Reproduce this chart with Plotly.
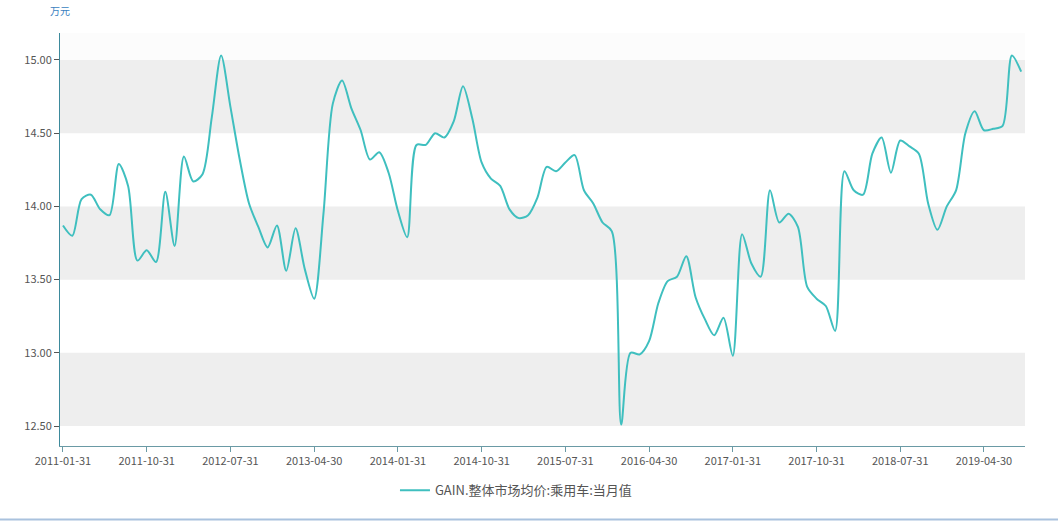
import pandas as pd
import plotly.graph_objects as go

months = pd.date_range("2011-01-31", periods=104, freq="ME").strftime("%Y-%m-%d").tolist()

values = [
    13.87, 13.80, 14.05, 14.08, 13.98, 13.94, 14.29, 14.14, 13.63, 13.70,
    13.62, 14.10, 13.73, 14.34, 14.17, 14.22, 14.61, 15.03, 14.68, 14.32,
    14.02, 13.86, 13.72, 13.87, 13.56, 13.85, 13.57, 13.37, 13.95, 14.70,
    14.86, 14.67, 14.52, 14.32, 14.37, 14.23, 13.97, 13.79, 14.42, 14.42,
    14.50, 14.47, 14.58, 14.82, 14.60, 14.30, 14.19, 14.14, 13.98, 13.92,
    13.94, 14.06, 14.27, 14.24, 14.30, 14.35, 14.11, 14.02, 13.89, 13.83,
    12.51, 13.00, 12.99, 13.08, 13.34, 13.49, 13.52, 13.66, 13.38, 13.23,
    13.12, 13.24, 12.98, 13.81, 13.61, 13.52, 14.11, 13.89, 13.95, 13.86,
    13.45, 13.37, 13.32, 13.15, 14.24, 14.11, 14.08, 14.36, 14.47, 14.23,
    14.45, 14.41, 14.36, 14.02, 13.84, 14.00, 14.11, 14.50, 14.65, 14.52,
    14.53, 14.55, 15.03, 14.92,
]

series_name = "GAIN.整体市场均价:乘用车:当月值"
unit_label = "万元"
x_ticks = months[::9]
y_ticks = [12.5, 13.0, 13.5, 14.0, 14.5, 15.0]
bands = [(14.5, 15.0), (13.5, 14.0), (12.5, 13.0)]

font_family = "Noto Sans CJK SC, Noto Sans, sans-serif"
line_color = "#3fbfbf"
axis_color = "#3d8a9c"

fig = go.Figure()
fig.add_trace(go.Scatter(
    x=months, y=values, mode="lines", name=series_name,
    line=dict(color=line_color, width=2, shape="spline", smoothing=0.8),
))

shapes = []
for lo, hi in bands:
    shapes.append(dict(type="rect", xref="paper", yref="y", x0=0, x1=1, y0=lo, y1=hi,
                       fillcolor="#eeeeee", line=dict(width=0), layer="below"))
shapes.append(dict(type="rect", xref="paper", yref="y", x0=0, x1=1, y0=15.0, y1=15.184,
                   fillcolor="#fcfcfc", line=dict(width=0), layer="below"))
shapes.append(dict(type="line", xref="paper", yref="paper", x0=-0.07, x1=1.04,
                   y0=-0.178, y1=-0.178, line=dict(color="#a9c2de", width=2)))

fig.update_layout(
    width=1058, height=521,
    margin=dict(l=60, r=33, t=33, b=75, autoexpand=False),
    paper_bgcolor="white", plot_bgcolor="white",
    font=dict(family=font_family, size=11, color="#555555"),
    shapes=shapes,
    showlegend=True,
    legend=dict(orientation="h", x=0.4725, xanchor="center", y=-0.107, yanchor="middle",
                font=dict(size=13, color="#555555"), bgcolor="rgba(0,0,0,0)"),
    annotations=[dict(text=unit_label, xref="paper", yref="paper", x=-0.0124, y=1.031,
                      xanchor="left", yanchor="bottom", showarrow=False,
                      font=dict(size=10, color="#3a7fbf", family=font_family))],
    xaxis=dict(
        type="category", range=[-0.32, 103.41],
        tickmode="array", tickvals=x_ticks, ticktext=x_ticks,
        showgrid=False, zeroline=False,
        showline=True, linecolor="#6a9aa5", linewidth=1,
        ticks="outside", ticklen=5, tickcolor="#6a9aa5",
        tickfont=dict(size=11, color="#555555"), tickangle=0,
    ),
    yaxis=dict(
        range=[12.364, 15.184],
        tickmode="array", tickvals=y_ticks, tickformat=".2f",
        showgrid=False, zeroline=False,
        showline=True, linecolor=axis_color, linewidth=1,
        ticks="outside", ticklen=5, tickcolor="#555555",
        tickfont=dict(size=11, color="#555555"),
    ),
)

# remove the browser's default 8px body margin so the figure fills the window exactly
fig.write_html("out.html", config={"displayModeBar": False},
               post_script="document.body.style.margin='0';document.body.style.overflow='hidden';")
